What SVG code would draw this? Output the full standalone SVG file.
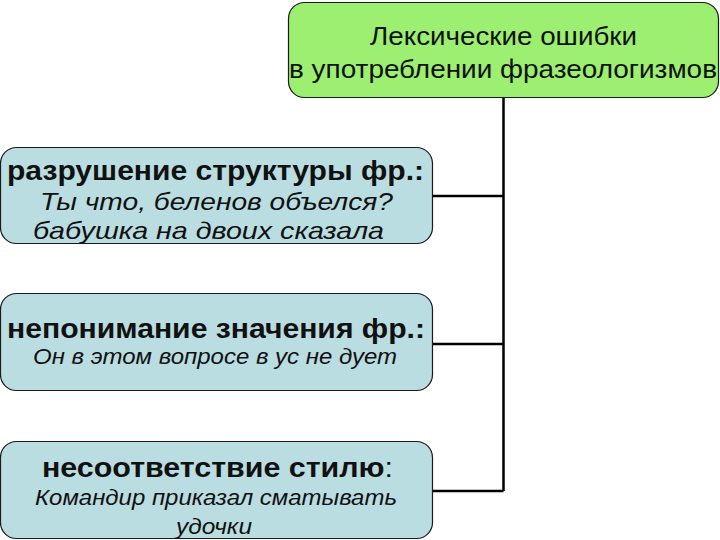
<svg xmlns="http://www.w3.org/2000/svg" width="720" height="540" viewBox="0 0 720 540">
<style>
.box{stroke:#1a1a1a;stroke-width:1.2}
.top{fill:#9cef70}
.sub{fill:#badde1}
text{font-family:"Liberation Sans",Arial,sans-serif;fill:#111}
.t{font-size:26px}
.b{font-size:27px;font-weight:bold}
.i{font-size:24px;font-style:italic}
.i2{font-size:22px;font-style:italic}
.conn{stroke:#000;stroke-width:2.5;fill:none}
</style>
<rect width="720" height="540" fill="#fff"/>
<g id="connectors">
<path class="conn" d="M503.5 97 V491 M433 196 H503.5 M433 344 H503.5 M433 491 H503.5"/>
</g>
<g id="root">
<rect class="box top" x="288.5" y="2.5" width="430" height="95" rx="16"/>
<text class="t" x="370" y="45" textLength="267" lengthAdjust="spacingAndGlyphs">Лексические ошибки</text>
<text class="t" x="289" y="78" textLength="428" lengthAdjust="spacingAndGlyphs">в употреблении фразеологизмов</text>
</g>
<g id="n1">
<rect class="box sub" x="0.5" y="147.5" width="432" height="96" rx="16"/>
<text class="b" x="7" y="180" textLength="417" lengthAdjust="spacingAndGlyphs">разрушение структуры фр.:</text>
<text class="i" x="40" y="210" textLength="353" lengthAdjust="spacingAndGlyphs">Ты что, беленов объелся?</text>
<text class="i" x="33" y="239" textLength="351" lengthAdjust="spacingAndGlyphs">бабушка на двоих сказала</text>
</g>
<g id="n2">
<rect class="box sub" x="0.5" y="293.5" width="432" height="97" rx="16"/>
<text class="b" x="7" y="338" textLength="418" lengthAdjust="spacingAndGlyphs">непонимание значения фр.:</text>
<text class="i2" x="33" y="364" textLength="364" lengthAdjust="spacingAndGlyphs">Он в этом вопросе в ус не дует</text>
</g>
<g id="n3">
<rect class="box sub" x="0.5" y="441.5" width="432" height="97" rx="16"/>
<text x="42" y="477" style="font-size:27px" textLength="351" lengthAdjust="spacingAndGlyphs"><tspan font-weight="bold">несоответствие стилю</tspan>:</text>
<text class="i2" x="35" y="505" textLength="362" lengthAdjust="spacingAndGlyphs">Командир приказал сматывать</text>
<text class="i2" x="176" y="534" textLength="76" lengthAdjust="spacingAndGlyphs">удочки</text>
</g>
</svg>
